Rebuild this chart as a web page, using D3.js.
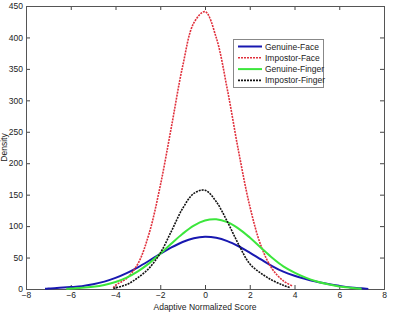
<!DOCTYPE html>
<html>
<head>
<meta charset="utf-8">
<script src="https://cdn.jsdelivr.net/npm/d3@7"></script>
<style>
  body { margin: 0; background: #fff; }
  text { font-family: "Liberation Sans", Arial, sans-serif; }
</style>
</head>
<body>
<script>
// densidades leidas a ojo del grafico original
const genuineFaceX  = [-7.15, -7, -6.5, -6, -5.5, -5, -4.5, -4, -3.5, -3, -2.5, -2, -1.5, -1, -0.5, 0, 0.5, 1, 1.5, 2, 2.5, 3, 3.5, 4, 4.5, 5, 5.5, 6, 6.5, 7, 7.3];
const genuineFaceY  = [0.3, 0.8, 1.8, 3, 4.5, 7.5, 11.7, 17.6, 25.2, 34.5, 44.9, 55.8, 66.1, 74.8, 80.7, 83, 81.4, 76.2, 68, 57.9, 47.1, 36.5, 27.5, 21, 16, 11.5, 8, 5, 2.5, 1, 0.2];

const impostorFaceX = [-4.1, -4, -3.5, -3, -2.5, -2, -1.5, -1, -0.5, 0, 0.5, 1, 1.5, 2, 2.5, 3, 3.5, 3.9];
const impostorFaceY = [2, 6, 17, 40, 88, 164, 258, 354, 423, 441, 400, 317, 219, 132, 69, 32, 13, 5];

const genuineFingerX = [-6.2, -6, -5.5, -5, -4.5, -4, -3.5, -3, -2.5, -2, -1.5, -1, -0.5, 0, 0.5, 1, 1.5, 2, 2.5, 3, 3.5, 4, 4.5, 5, 5.5, 6, 6.5, 7];
const genuineFingerY = [0.3, 0.9, 1.8, 3.5, 6.4, 11.1, 18.2, 28.1, 40.8, 55.9, 72.3, 87.9, 100.8, 108.9, 110.9, 106.3, 96.1, 81.9, 65.7, 49.7, 36, 26, 18, 12, 7.5, 4, 2, 0.5];

const impostorFingerX = [-4.1, -3.5, -3, -2.5, -2, -1.5, -1, -0.5, 0, 0.5, 1, 1.5, 2, 2.5, 3, 3.5, 3.8];
const impostorFingerY = [1, 7, 18, 33, 57, 92, 128, 152, 157, 139, 107, 71, 40, 25, 14, 6, 2];

const xTicks = [-8, -6, -4, -2, 0, 2, 4, 6, 8];
const yTicks = [0, 50, 100, 150, 200, 250, 300, 350, 400, 450];

const seriesNames = ["Genuine-Face", "Impostor-Face", "Genuine-Finger", "Impostor-Finger"];

const WIDTH = 398, HEIGHT = 314;
let margin = {top: 6, right: 14, bottom: 25, left: 26},
    width = WIDTH - margin.left - margin.right,
    height = HEIGHT - margin.top - margin.bottom;

let svg = d3.select("body").append("svg")
    .attr("width", WIDTH)
    .attr("height", HEIGHT);

let plot = svg.append("g")
    .attr("transform", "translate(" + margin.left + "," + margin.top + ")");

let xScale = d3.scaleLinear().domain([-8, 8]).range([0, width]);
let yScale = d3.scaleLinear().domain([0, 450]).range([height, 0]);

// ejes con ticks hacia adentro, estilo matlab
function styleAxis(g) {
    g.select(".domain").remove();
    g.selectAll(".tick line").attr("stroke", "#444");
    g.selectAll(".tick text").attr("fill", "#222").attr("font-size", 8.5);
}

plot.append("g")
    .attr("transform", "translate(0," + height + ")")
    .call(d3.axisBottom(xScale).tickValues(xTicks).tickSize(-4).tickPadding(3))
    .call(styleAxis);

plot.append("g")
    .call(d3.axisTop(xScale).tickValues(xTicks).tickSize(-4).tickFormat(""))
    .call(styleAxis);

plot.append("g")
    .call(d3.axisLeft(yScale).tickValues(yTicks).tickSize(-4).tickPadding(3))
    .call(styleAxis);

plot.append("g")
    .attr("transform", "translate(" + width + ",0)")
    .call(d3.axisRight(yScale).tickValues(yTicks).tickSize(-4).tickFormat(""))
    .call(styleAxis);

plot.append("rect")
    .attr("x", 0.5).attr("y", 0.5)
    .attr("width", width).attr("height", height)
    .attr("fill", "none")
    .attr("stroke", "#555");

let line = d3.line()
    .x(d => xScale(d[0]))
    .y(d => yScale(d[1]))
    .curve(d3.curveCatmullRom.alpha(0.5));

let series = [
    {name: seriesNames[0], xs: genuineFaceX, ys: genuineFaceY, color: "#1818b0", width: 2, dash: null},
    {name: seriesNames[1], xs: impostorFaceX, ys: impostorFaceY, color: "#e0303c", width: 1.6, dash: "2,1"},
    {name: seriesNames[2], xs: genuineFingerX, ys: genuineFingerY, color: "#3ce63c", width: 2, dash: null},
    {name: seriesNames[3], xs: impostorFingerX, ys: impostorFingerY, color: "#111", width: 1.6, dash: "2,1"}
];

series.forEach(s => {
    let pts = s.xs.map((x, i) => [x, s.ys[i]]);
    plot.append("path")
        .datum(pts)
        .attr("fill", "none")
        .attr("stroke", s.color)
        .attr("stroke-width", s.width)
        .attr("stroke-dasharray", s.dash)
        .attr("d", line);
});

// leyenda
let legend = svg.append("g").attr("transform", "translate(233,39)");
legend.append("rect")
    .attr("x", 0.5).attr("y", 0.5)
    .attr("width", 90).attr("height", 48)
    .attr("fill", "#fff")
    .attr("stroke", "#888");

series.forEach((s, i) => {
    let y = 7.5 + i * 11.3;
    legend.append("line")
        .attr("x1", 5).attr("x2", 29)
        .attr("y1", y).attr("y2", y)
        .attr("stroke", s.color)
        .attr("stroke-width", s.width)
        .attr("stroke-dasharray", s.dash);
    legend.append("text")
        .attr("x", 32).attr("y", y + 3)
        .attr("font-size", 8.5)
        .attr("fill", "#222")
        .text(s.name);
});

svg.append("text")
    .attr("x", margin.left + width / 2)
    .attr("y", 310)
    .attr("text-anchor", "middle")
    .attr("font-size", 8.5)
    .attr("fill", "#222")
    .text("Adaptive Normalized Score");

svg.append("text")
    .attr("transform", "translate(7," + (margin.top + height / 2) + ") rotate(-90)")
    .attr("text-anchor", "middle")
    .attr("font-size", 8.5)
    .attr("fill", "#222")
    .text("Density");
</script>
</body>
</html>
